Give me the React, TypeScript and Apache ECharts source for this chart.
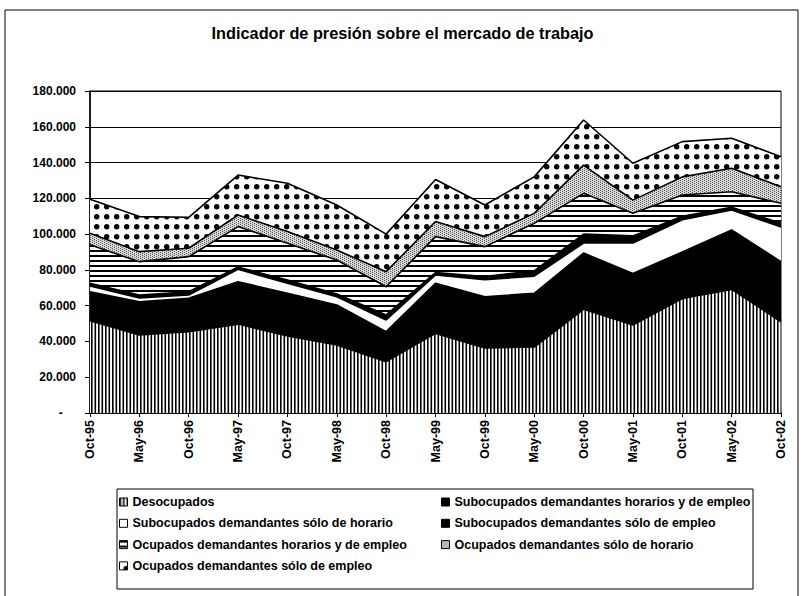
import React, { useEffect, useRef } from 'react';
import * as echarts from 'echarts';

const categories = ['Oct-95', 'May-96', 'Oct-96', 'May-97', 'Oct-97', 'May-98', 'Oct-98', 'May-99', 'Oct-99', 'May-00', 'Oct-00', 'May-01', 'Oct-01', 'May-02', 'Oct-02'];

const desocupados = [51600, 43600, 45500, 49700, 43000, 38000, 28700, 44500, 36300, 36900, 58000, 49200, 64000, 69100, 51000];
const subHorariosEmpleo = [16200, 18600, 18600, 23700, 23900, 22400, 16800, 28000, 28700, 30000, 31400, 28800, 26000, 33200, 33600];
const subSoloHorario = [3200, 2100, 1900, 6900, 5600, 4600, 6500, 4700, 9500, 9600, 5600, 17000, 18000, 11200, 19400];
const subSoloEmpleo = [1500, 1700, 1800, 1300, 1800, 1500, 2800, 1300, 1800, 3000, 5000, 4000, 2000, 1500, 2000];
const ocupHorariosEmpleo = [21500, 18600, 19600, 22600, 20600, 19000, 15800, 20100, 16700, 26500, 22800, 12600, 11900, 8700, 11200];
const ocupSoloHorario = [6500, 5600, 4700, 6500, 6500, 5600, 8400, 8400, 5600, 5600, 15800, 7400, 10100, 13100, 9300];
const ocupSoloEmpleo = [19000, 19600, 17300, 22300, 27000, 25200, 21000, 23500, 17700, 20400, 25200, 20600, 19700, 16800, 16800];

const seriesNames = [
  'Desocupados',
  'Subocupados demandantes horarios y de empleo',
  'Subocupados demandantes sólo de horario',
  'Subocupados demandantes sólo de empleo',
  'Ocupados demandantes horarios y de empleo',
  'Ocupados demandantes sólo de horario',
  'Ocupados demandantes sólo de empleo',
];
const seriesData = [desocupados, subHorariosEmpleo, subSoloHorario, subSoloEmpleo, ocupHorariosEmpleo, ocupSoloHorario, ocupSoloEmpleo];
const seriesFills = ['vstripes', 'black', 'white', 'black', 'hstripes', 'stipple', 'dots'];

const leftLegend = [0, 2, 4, 6];
const rightLegend = [1, 3, 5];

const yMin = 0;
const yMax = 180000;
const yStep = 20000;

const titleText = 'Indicador de presión sobre el mercado de trabajo';

function makeFill(kind: string): any {
  if (kind === 'black') return '#000000';
  if (kind === 'white') return '#ffffff';
  const c = document.createElement('canvas');
  let w = 4, h = 4;
  if (kind === 'vstripes') { w = 7; h = 4; }
  if (kind === 'hstripes') { w = 4; h = 5; }
  if (kind === 'stipple') { w = 4; h = 4; }
  if (kind === 'dots') { w = 10; h = 10; }
  c.width = w; c.height = h;
  const ctx = c.getContext('2d')!;
  ctx.fillStyle = '#ffffff';
  ctx.fillRect(0, 0, w, h);
  ctx.fillStyle = '#000000';
  if (kind === 'vstripes') {
    ctx.fillRect(0, 0, 1.6, h);
    ctx.fillRect(3.5, 0, 1.6, h);
  } else if (kind === 'hstripes') {
    ctx.fillRect(0, 0, w, 2);
  } else if (kind === 'stipple') {
    ctx.fillStyle = '#d8d8d8';
    ctx.fillRect(0, 0, w, h);
    ctx.fillStyle = '#555555';
    ctx.fillRect(0, 0, 1, 1);
    ctx.fillRect(2, 1, 1, 1);
    ctx.fillRect(0, 2, 1, 1);
    ctx.fillRect(2, 3, 1, 1);
  } else if (kind === 'dots') {
    ctx.beginPath();
    ctx.arc(6.7, 6.7, 2.7, 0, Math.PI * 2);
    ctx.fill();
  }
  return { image: c, repeat: 'repeat' };
}

function fmt(v: number): string {
  if (v === 0) return '-\u00a0\u00a0\u00a0\u00a0';
  return String(v).replace(/\B(?=(\d{3})+(?!\d))/g, '.');
}

export default function App() {
  const ref = useRef<HTMLDivElement>(null);
  useEffect(() => {
    document.body.style.margin = '0';
    const chart = echarts.init(ref.current!, undefined, { renderer: 'svg' });
    const fills = seriesFills.map(makeFill);
    const font = 'Liberation Sans, Arial, sans-serif';

    const areaSeries = seriesNames.map((name, i) => ({
      name,
      type: 'line',
      stack: 'areas',
      data: seriesData[i],
      symbol: 'none',
      showSymbol: false,
      silent: true,
      z: 2,
      itemStyle: { color: '#000' },
      lineStyle: { width: 0, color: '#000' },
      areaStyle: { color: fills[i], opacity: 1 },
    }));
    const lineSeries = seriesNames.map((name, i) => ({
      name: '_line' + i,
      type: 'line',
      stack: 'lines',
      data: seriesData[i],
      symbol: 'none',
      showSymbol: false,
      silent: true,
      z: 3,
      itemStyle: { color: '#000' },
      lineStyle: { width: 1.6, color: '#000' },
    }));

    const legendItem = (i: number) => ({
      name: seriesNames[i],
      icon: 'rect',
      itemStyle: { color: fills[i], borderColor: '#000', borderWidth: 1 },
    });
    const legendCommon = {
      orient: 'vertical',
      padding: 0,
      itemWidth: 8,
      itemHeight: 8,
      itemGap: 7.3,
      selectedMode: false,
      textStyle: { fontFamily: font, fontSize: 12.5, fontWeight: 'bold', color: '#000', lineHeight: 14 },
    };

    chart.setOption({
      animation: false,
      backgroundColor: '#fff',
      title: {
        text: titleText,
        left: 'center',
        top: 25,
        padding: 0,
        textStyle: { fontFamily: font, fontSize: 16.3, fontWeight: 'bold', color: '#000' },
      },
      legend: [
        { ...legendCommon, left: 119, top: 495, data: leftLegend.map(legendItem) },
        { ...legendCommon, left: 441, top: 495, data: rightLegend.map(legendItem) },
      ],
      grid: {
        left: 90, right: 24, top: 91, bottom: 183,
        show: true, borderColor: '#000', borderWidth: 1, backgroundColor: 'transparent',
      },
      xAxis: {
        type: 'category',
        data: categories,
        boundaryGap: false,
        axisLine: { lineStyle: { color: '#000', width: 1.5 } },
        axisTick: { show: true, length: 4, lineStyle: { color: '#000' } },
        axisLabel: { rotate: 90, margin: 7, interval: 0, fontFamily: font, fontSize: 12.5, fontWeight: 'bold', color: '#000' },
        splitLine: { show: false },
      },
      yAxis: {
        type: 'value',
        min: yMin,
        max: yMax,
        interval: yStep,
        axisLine: { show: true, lineStyle: { color: '#000', width: 1.5 } },
        axisTick: { show: true, length: 5, lineStyle: { color: '#000' } },
        axisLabel: { margin: 14, formatter: fmt, fontFamily: font, fontSize: 12, fontWeight: 'bold', color: '#000' },
        splitLine: { show: true, lineStyle: { color: '#000', width: 1 } },
      },
      graphic: [
        { type: 'rect', shape: { x: 5, y: 10, width: 793, height: 600 }, style: { fill: 'none', stroke: '#000', lineWidth: 1 }, silent: true },
        { type: 'rect', shape: { x: 117, y: 489, width: 636, height: 100 }, style: { fill: 'none', stroke: '#000', lineWidth: 1 }, silent: true },
      ],
      series: [...areaSeries, ...lineSeries],
    });
    return () => chart.dispose();
  }, []);
  return <div ref={ref} style={{ width: 805, height: 596 }} />;
}
